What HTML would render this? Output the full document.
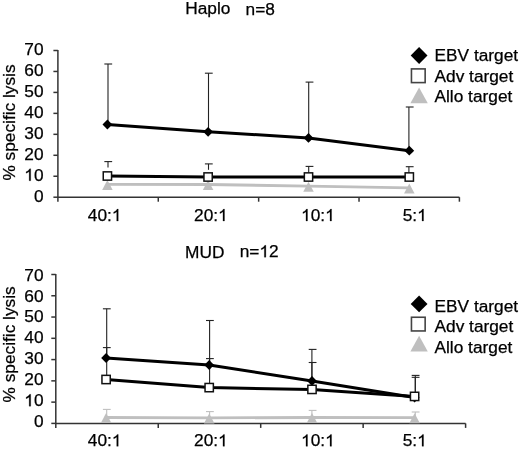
<!DOCTYPE html>
<html><head><meta charset="utf-8"><style>
html,body{margin:0;padding:0;background:#fff;}
svg{display:block;will-change:transform;font-family:"Liberation Sans", sans-serif;}
text{fill:#000;stroke:#000;stroke-width:0.25px;}
.o{fill-opacity:0;stroke-opacity:0;}
.one{fill:#000;stroke:#000;stroke-width:30px;}
</style></head><body>
<svg width="520" height="449" viewBox="0 0 520 449">
<rect width="520" height="449" fill="#fff"/>
<text x="185.2" y="14.4" font-size="17.3" text-anchor="start" >Haplo</text>
<text x="245.6" y="14.6" font-size="17.3" text-anchor="start" >n=8</text>
<text transform="translate(15.2,122.5) rotate(-90)" font-size="17.3" text-anchor="middle">% specific lysis</text>
<text x="43.5" y="201.7" font-size="17.3" text-anchor="end" >0</text>
<line x1="53.4" y1="197.2" x2="57.9" y2="197.2" stroke="#333" stroke-width="1.5"/>
<text x="43.5" y="180.73" font-size="17.3" text-anchor="end" ><tspan class="o">1</tspan>0</text>
<line x1="53.4" y1="176.24285714285713" x2="57.9" y2="176.24285714285713" stroke="#333" stroke-width="1.5"/>
<text x="43.5" y="159.76" font-size="17.3" text-anchor="end" >20</text>
<line x1="53.4" y1="155.28571428571428" x2="57.9" y2="155.28571428571428" stroke="#333" stroke-width="1.5"/>
<text x="43.5" y="138.79" font-size="17.3" text-anchor="end" >30</text>
<line x1="53.4" y1="134.32857142857142" x2="57.9" y2="134.32857142857142" stroke="#333" stroke-width="1.5"/>
<text x="43.5" y="117.82" font-size="17.3" text-anchor="end" >40</text>
<line x1="53.4" y1="113.37142857142857" x2="57.9" y2="113.37142857142857" stroke="#333" stroke-width="1.5"/>
<text x="43.5" y="96.85" font-size="17.3" text-anchor="end" >50</text>
<line x1="53.4" y1="92.41428571428571" x2="57.9" y2="92.41428571428571" stroke="#333" stroke-width="1.5"/>
<text x="43.5" y="75.88" font-size="17.3" text-anchor="end" >60</text>
<line x1="53.4" y1="71.45714285714286" x2="57.9" y2="71.45714285714286" stroke="#333" stroke-width="1.5"/>
<text x="43.5" y="54.91" font-size="17.3" text-anchor="end" >70</text>
<line x1="53.4" y1="50.5" x2="57.9" y2="50.5" stroke="#333" stroke-width="1.5"/>
<line x1="57.9" y1="50.0" x2="57.9" y2="201.7" stroke="#333" stroke-width="1.5"/>
<line x1="57.9" y1="197.2" x2="459.4" y2="197.2" stroke="#333" stroke-width="1.5"/>
<line x1="158.275" y1="197.2" x2="158.275" y2="201.7" stroke="#333" stroke-width="1.5"/>
<line x1="258.65" y1="197.2" x2="258.65" y2="201.7" stroke="#333" stroke-width="1.5"/>
<line x1="359.025" y1="197.2" x2="359.025" y2="201.7" stroke="#333" stroke-width="1.5"/>
<line x1="459.4" y1="197.2" x2="459.4" y2="201.7" stroke="#333" stroke-width="1.5"/>
<text x="104.6" y="221" font-size="17.3" text-anchor="middle" >40:<tspan class="o">1</tspan></text>
<text x="210.85" y="221" font-size="17.3" text-anchor="middle" >20:<tspan class="o">1</tspan></text>
<text x="317.9" y="221" font-size="17.3" text-anchor="middle" ><tspan class="o">1</tspan>0:<tspan class="o">1</tspan></text>
<text x="414.7" y="221" font-size="17.3" text-anchor="middle" >5:<tspan class="o">1</tspan></text>
<polyline points="107.40,184.40 208.10,184.50 308.50,186.10 409.30,187.80" fill="none" stroke="#bfbfbf" stroke-width="2.8" stroke-linejoin="round"/>
<polygon points="107.40,180.00 112.65,190.00 102.15,190.00" fill="#bfbfbf" stroke="none" stroke-width="0"/>
<polygon points="208.10,180.10 213.35,190.10 202.85,190.10" fill="#bfbfbf" stroke="none" stroke-width="0"/>
<polygon points="308.50,181.70 313.75,191.70 303.25,191.70" fill="#bfbfbf" stroke="none" stroke-width="0"/>
<polygon points="409.30,183.40 414.55,193.40 404.05,193.40" fill="#bfbfbf" stroke="none" stroke-width="0"/>
<line x1="108.0" y1="167.5" x2="108.0" y2="161.6" stroke="#222" stroke-width="1.1"/>
<line x1="104.35" y1="161.6" x2="112.15" y2="161.6" stroke="#222" stroke-width="1.1"/>
<line x1="208.5" y1="169.8" x2="208.5" y2="163.9" stroke="#222" stroke-width="1.1"/>
<line x1="204.9" y1="163.9" x2="212.70000000000002" y2="163.9" stroke="#222" stroke-width="1.1"/>
<line x1="308.7" y1="177" x2="308.7" y2="166.4" stroke="#222" stroke-width="1.1"/>
<line x1="305.6" y1="166.4" x2="313.4" y2="166.4" stroke="#222" stroke-width="1.1"/>
<line x1="408.9" y1="177" x2="408.9" y2="166.7" stroke="#222" stroke-width="1.1"/>
<line x1="405.8" y1="166.7" x2="413.59999999999997" y2="166.7" stroke="#222" stroke-width="1.1"/>
<line x1="108.0" y1="124.5" x2="108.0" y2="64" stroke="#222" stroke-width="1.1"/>
<line x1="104.35" y1="64" x2="112.15" y2="64" stroke="#222" stroke-width="1.1"/>
<line x1="208.5" y1="131.8" x2="208.5" y2="73.2" stroke="#222" stroke-width="1.1"/>
<line x1="204.9" y1="73.2" x2="212.70000000000002" y2="73.2" stroke="#222" stroke-width="1.1"/>
<line x1="308.7" y1="137.9" x2="308.7" y2="82.1" stroke="#222" stroke-width="1.1"/>
<line x1="305.6" y1="82.1" x2="313.4" y2="82.1" stroke="#222" stroke-width="1.1"/>
<line x1="408.9" y1="150.7" x2="408.9" y2="107" stroke="#222" stroke-width="1.1"/>
<line x1="405.8" y1="107" x2="413.59999999999997" y2="107" stroke="#222" stroke-width="1.1"/>
<polyline points="107.40,176.00 208.10,177.00 308.50,177.00 409.30,177.00" fill="none" stroke="#000" stroke-width="3" stroke-linejoin="round"/>
<polyline points="107.40,124.50 208.10,131.80 308.50,137.90 409.30,150.70" fill="none" stroke="#000" stroke-width="3" stroke-linejoin="round"/>
<polygon points="107.40,119.60 112.30,124.50 107.40,129.40 102.50,124.50" fill="#000" stroke="none" stroke-width="0"/>
<polygon points="208.10,126.90 213.00,131.80 208.10,136.70 203.20,131.80" fill="#000" stroke="none" stroke-width="0"/>
<polygon points="308.50,133.00 313.40,137.90 308.50,142.80 303.60,137.90" fill="#000" stroke="none" stroke-width="0"/>
<polygon points="409.30,145.80 414.20,150.70 409.30,155.60 404.40,150.70" fill="#000" stroke="none" stroke-width="0"/>
<rect x="103.25" y="171.85" width="8.30" height="8.30" fill="#fff" stroke="#111" stroke-width="1.5"/>
<rect x="203.95" y="172.85" width="8.30" height="8.30" fill="#fff" stroke="#111" stroke-width="1.5"/>
<rect x="304.35" y="172.85" width="8.30" height="8.30" fill="#fff" stroke="#111" stroke-width="1.5"/>
<rect x="405.15" y="172.85" width="8.30" height="8.30" fill="#fff" stroke="#111" stroke-width="1.5"/>
<polygon points="419.10,47.10 427.50,55.50 419.10,63.90 410.70,55.50" fill="#000" stroke="none" stroke-width="0"/>
<rect x="411.45" y="68.90" width="13.70" height="13.70" fill="#fff" stroke="#444" stroke-width="1.6"/>
<polygon points="419.10,87.45 427.80,103.15 410.40,103.15" fill="#bfbfbf" stroke="none" stroke-width="0"/>
<text x="434.5" y="61.4" font-size="17.3" text-anchor="start" >EBV target</text>
<text x="434.5" y="81.9" font-size="17.3" text-anchor="start" >Adv target</text>
<text x="434.5" y="102.4" font-size="17.3" text-anchor="start" >Allo target</text>
<text x="185" y="257.5" font-size="17.3" text-anchor="start" >MUD</text>
<text x="239.717529296875" y="257.2" font-size="17.3" text-anchor="start" >n=<tspan class="o">1</tspan>2</text>
<text transform="translate(15.2,344.4) rotate(-90)" font-size="17.3" text-anchor="middle">% specific lysis</text>
<text x="43.5" y="427.1" font-size="17.3" text-anchor="end" >0</text>
<line x1="51.3" y1="423.4" x2="55.8" y2="423.4" stroke="#333" stroke-width="1.5"/>
<text x="43.5" y="406.17" font-size="17.3" text-anchor="end" ><tspan class="o">1</tspan>0</text>
<line x1="51.3" y1="402.12857142857143" x2="55.8" y2="402.12857142857143" stroke="#333" stroke-width="1.5"/>
<text x="43.5" y="385.24" font-size="17.3" text-anchor="end" >20</text>
<line x1="51.3" y1="380.85714285714283" x2="55.8" y2="380.85714285714283" stroke="#333" stroke-width="1.5"/>
<text x="43.5" y="364.31" font-size="17.3" text-anchor="end" >30</text>
<line x1="51.3" y1="359.5857142857143" x2="55.8" y2="359.5857142857143" stroke="#333" stroke-width="1.5"/>
<text x="43.5" y="343.38" font-size="17.3" text-anchor="end" >40</text>
<line x1="51.3" y1="338.3142857142857" x2="55.8" y2="338.3142857142857" stroke="#333" stroke-width="1.5"/>
<text x="43.5" y="322.45000000000005" font-size="17.3" text-anchor="end" >50</text>
<line x1="51.3" y1="317.04285714285714" x2="55.8" y2="317.04285714285714" stroke="#333" stroke-width="1.5"/>
<text x="43.5" y="301.52000000000004" font-size="17.3" text-anchor="end" >60</text>
<line x1="51.3" y1="295.7714285714286" x2="55.8" y2="295.7714285714286" stroke="#333" stroke-width="1.5"/>
<text x="43.5" y="280.59000000000003" font-size="17.3" text-anchor="end" >70</text>
<line x1="51.3" y1="274.5" x2="55.8" y2="274.5" stroke="#333" stroke-width="1.5"/>
<line x1="55.8" y1="274.0" x2="55.8" y2="427.9" stroke="#333" stroke-width="1.5"/>
<line x1="55.8" y1="423.4" x2="465.6" y2="423.4" stroke="#333" stroke-width="1.5"/>
<line x1="158.25" y1="423.4" x2="158.25" y2="427.9" stroke="#333" stroke-width="1.5"/>
<line x1="260.7" y1="423.4" x2="260.7" y2="427.9" stroke="#333" stroke-width="1.5"/>
<line x1="363.15000000000003" y1="423.4" x2="363.15000000000003" y2="427.9" stroke="#333" stroke-width="1.5"/>
<line x1="465.6" y1="423.4" x2="465.6" y2="427.9" stroke="#333" stroke-width="1.5"/>
<text x="104.6" y="446.3" font-size="17.3" text-anchor="middle" >40:<tspan class="o">1</tspan></text>
<text x="210.85" y="446.3" font-size="17.3" text-anchor="middle" >20:<tspan class="o">1</tspan></text>
<text x="317.9" y="446.3" font-size="17.3" text-anchor="middle" ><tspan class="o">1</tspan>0:<tspan class="o">1</tspan></text>
<text x="414.7" y="446.3" font-size="17.3" text-anchor="middle" >5:<tspan class="o">1</tspan></text>
<polyline points="106.10,417.50 209.20,417.90 312.00,417.50 414.60,417.70" fill="none" stroke="#bfbfbf" stroke-width="2.8" stroke-linejoin="round"/>
<line x1="106.7" y1="417.5" x2="106.7" y2="409.4" stroke="#bfbfbf" stroke-width="1.1"/>
<line x1="102.89999999999999" y1="409.4" x2="110.7" y2="409.4" stroke="#bfbfbf" stroke-width="1.1"/>
<line x1="209.6" y1="417.9" x2="209.6" y2="411.6" stroke="#bfbfbf" stroke-width="1.1"/>
<line x1="206.0" y1="411.6" x2="213.8" y2="411.6" stroke="#bfbfbf" stroke-width="1.1"/>
<line x1="311.9" y1="417.5" x2="311.9" y2="410.4" stroke="#bfbfbf" stroke-width="1.1"/>
<line x1="308.70000000000005" y1="410.4" x2="316.5" y2="410.4" stroke="#bfbfbf" stroke-width="1.1"/>
<line x1="415.3" y1="417.7" x2="415.3" y2="412" stroke="#bfbfbf" stroke-width="1.1"/>
<line x1="411.70000000000005" y1="412" x2="419.5" y2="412" stroke="#bfbfbf" stroke-width="1.1"/>
<polygon points="106.10,413.10 111.35,423.10 100.85,423.10" fill="#bfbfbf" stroke="none" stroke-width="0"/>
<polygon points="209.20,413.50 214.45,423.50 203.95,423.50" fill="#bfbfbf" stroke="none" stroke-width="0"/>
<polygon points="312.00,413.10 317.25,423.10 306.75,423.10" fill="#bfbfbf" stroke="none" stroke-width="0"/>
<polygon points="414.60,413.30 419.85,423.30 409.35,423.30" fill="#bfbfbf" stroke="none" stroke-width="0"/>
<line x1="106.7" y1="379.5" x2="106.7" y2="347.6" stroke="#222" stroke-width="1.1"/>
<line x1="102.89999999999999" y1="347.6" x2="110.7" y2="347.6" stroke="#222" stroke-width="1.1"/>
<line x1="209.6" y1="387.6" x2="209.6" y2="358.6" stroke="#222" stroke-width="1.1"/>
<line x1="206.0" y1="358.6" x2="213.8" y2="358.6" stroke="#222" stroke-width="1.1"/>
<line x1="311.9" y1="389.4" x2="311.9" y2="362.5" stroke="#222" stroke-width="1.1"/>
<line x1="308.70000000000005" y1="362.5" x2="316.5" y2="362.5" stroke="#222" stroke-width="1.1"/>
<line x1="415.3" y1="396.4" x2="415.3" y2="377.3" stroke="#222" stroke-width="1.1"/>
<line x1="411.70000000000005" y1="377.3" x2="419.5" y2="377.3" stroke="#222" stroke-width="1.1"/>
<line x1="106.7" y1="358.0" x2="106.7" y2="308.8" stroke="#222" stroke-width="1.1"/>
<line x1="102.89999999999999" y1="308.8" x2="110.7" y2="308.8" stroke="#222" stroke-width="1.1"/>
<line x1="209.6" y1="365.0" x2="209.6" y2="320.5" stroke="#222" stroke-width="1.1"/>
<line x1="206.0" y1="320.5" x2="213.8" y2="320.5" stroke="#222" stroke-width="1.1"/>
<line x1="311.9" y1="381.0" x2="311.9" y2="349.4" stroke="#222" stroke-width="1.1"/>
<line x1="308.70000000000005" y1="349.4" x2="316.5" y2="349.4" stroke="#222" stroke-width="1.1"/>
<line x1="415.3" y1="397.5" x2="415.3" y2="375.4" stroke="#222" stroke-width="1.1"/>
<line x1="411.70000000000005" y1="375.4" x2="419.5" y2="375.4" stroke="#222" stroke-width="1.1"/>
<polyline points="106.10,379.50 209.20,387.60 312.00,389.40 414.60,396.40" fill="none" stroke="#000" stroke-width="3" stroke-linejoin="round"/>
<polyline points="106.10,358.00 209.20,365.00 312.00,381.00 414.60,397.50" fill="none" stroke="#000" stroke-width="3" stroke-linejoin="round"/>
<polygon points="106.10,353.10 111.00,358.00 106.10,362.90 101.20,358.00" fill="#000" stroke="none" stroke-width="0"/>
<polygon points="209.20,360.10 214.10,365.00 209.20,369.90 204.30,365.00" fill="#000" stroke="none" stroke-width="0"/>
<polygon points="312.00,376.10 316.90,381.00 312.00,385.90 307.10,381.00" fill="#000" stroke="none" stroke-width="0"/>
<polygon points="414.60,392.60 419.50,397.50 414.60,402.40 409.70,397.50" fill="#000" stroke="none" stroke-width="0"/>
<rect x="101.95" y="375.35" width="8.30" height="8.30" fill="#fff" stroke="#111" stroke-width="1.5"/>
<rect x="205.05" y="383.45" width="8.30" height="8.30" fill="#fff" stroke="#111" stroke-width="1.5"/>
<rect x="307.85" y="385.25" width="8.30" height="8.30" fill="#fff" stroke="#111" stroke-width="1.5"/>
<rect x="410.45" y="392.25" width="8.30" height="8.30" fill="#fff" stroke="#111" stroke-width="1.5"/>
<polygon points="419.10,295.50 427.50,303.90 419.10,312.30 410.70,303.90" fill="#000" stroke="none" stroke-width="0"/>
<rect x="411.45" y="317.25" width="13.70" height="13.70" fill="#fff" stroke="#444" stroke-width="1.6"/>
<polygon points="419.10,335.75 427.80,351.45 410.40,351.45" fill="#bfbfbf" stroke="none" stroke-width="0"/>
<text x="434.5" y="311.5" font-size="17.3" text-anchor="start" >EBV target</text>
<text x="434.5" y="332.0" font-size="17.3" text-anchor="start" >Adv target</text>
<text x="434.5" y="352.8" font-size="17.3" text-anchor="start" >Allo target</text>
<path class="one" transform="translate(24.25,180.73) scale(0.008447,-0.008447)" d="M763,0 L583,0 L583,1098 Q518,1038 412,979 Q306,920 222,890 L222,1057 Q373,1125 486,1221 Q599,1318 646,1409 L763,1409 Z"/>
<path class="one" transform="translate(111.80,221.00) scale(0.008447,-0.008447)" d="M763,0 L583,0 L583,1098 Q518,1038 412,979 Q306,920 222,890 L222,1057 Q373,1125 486,1221 Q599,1318 646,1409 L763,1409 Z"/>
<path class="one" transform="translate(218.05,221.00) scale(0.008447,-0.008447)" d="M763,0 L583,0 L583,1098 Q518,1038 412,979 Q306,920 222,890 L222,1057 Q373,1125 486,1221 Q599,1318 646,1409 L763,1409 Z"/>
<path class="one" transform="translate(301.06,221.00) scale(0.008447,-0.008447)" d="M763,0 L583,0 L583,1098 Q518,1038 412,979 Q306,920 222,890 L222,1057 Q373,1125 486,1221 Q599,1318 646,1409 L763,1409 Z"/>
<path class="one" transform="translate(325.11,221.00) scale(0.008447,-0.008447)" d="M763,0 L583,0 L583,1098 Q518,1038 412,979 Q306,920 222,890 L222,1057 Q373,1125 486,1221 Q599,1318 646,1409 L763,1409 Z"/>
<path class="one" transform="translate(417.10,221.00) scale(0.008447,-0.008447)" d="M763,0 L583,0 L583,1098 Q518,1038 412,979 Q306,920 222,890 L222,1057 Q373,1125 486,1221 Q599,1318 646,1409 L763,1409 Z"/>
<path class="one" transform="translate(259.42,257.20) scale(0.008447,-0.008447)" d="M763,0 L583,0 L583,1098 Q518,1038 412,979 Q306,920 222,890 L222,1057 Q373,1125 486,1221 Q599,1318 646,1409 L763,1409 Z"/>
<path class="one" transform="translate(24.25,406.17) scale(0.008447,-0.008447)" d="M763,0 L583,0 L583,1098 Q518,1038 412,979 Q306,920 222,890 L222,1057 Q373,1125 486,1221 Q599,1318 646,1409 L763,1409 Z"/>
<path class="one" transform="translate(111.80,446.30) scale(0.008447,-0.008447)" d="M763,0 L583,0 L583,1098 Q518,1038 412,979 Q306,920 222,890 L222,1057 Q373,1125 486,1221 Q599,1318 646,1409 L763,1409 Z"/>
<path class="one" transform="translate(218.05,446.30) scale(0.008447,-0.008447)" d="M763,0 L583,0 L583,1098 Q518,1038 412,979 Q306,920 222,890 L222,1057 Q373,1125 486,1221 Q599,1318 646,1409 L763,1409 Z"/>
<path class="one" transform="translate(301.06,446.30) scale(0.008447,-0.008447)" d="M763,0 L583,0 L583,1098 Q518,1038 412,979 Q306,920 222,890 L222,1057 Q373,1125 486,1221 Q599,1318 646,1409 L763,1409 Z"/>
<path class="one" transform="translate(325.11,446.30) scale(0.008447,-0.008447)" d="M763,0 L583,0 L583,1098 Q518,1038 412,979 Q306,920 222,890 L222,1057 Q373,1125 486,1221 Q599,1318 646,1409 L763,1409 Z"/>
<path class="one" transform="translate(417.10,446.30) scale(0.008447,-0.008447)" d="M763,0 L583,0 L583,1098 Q518,1038 412,979 Q306,920 222,890 L222,1057 Q373,1125 486,1221 Q599,1318 646,1409 L763,1409 Z"/>
</svg></body></html>
